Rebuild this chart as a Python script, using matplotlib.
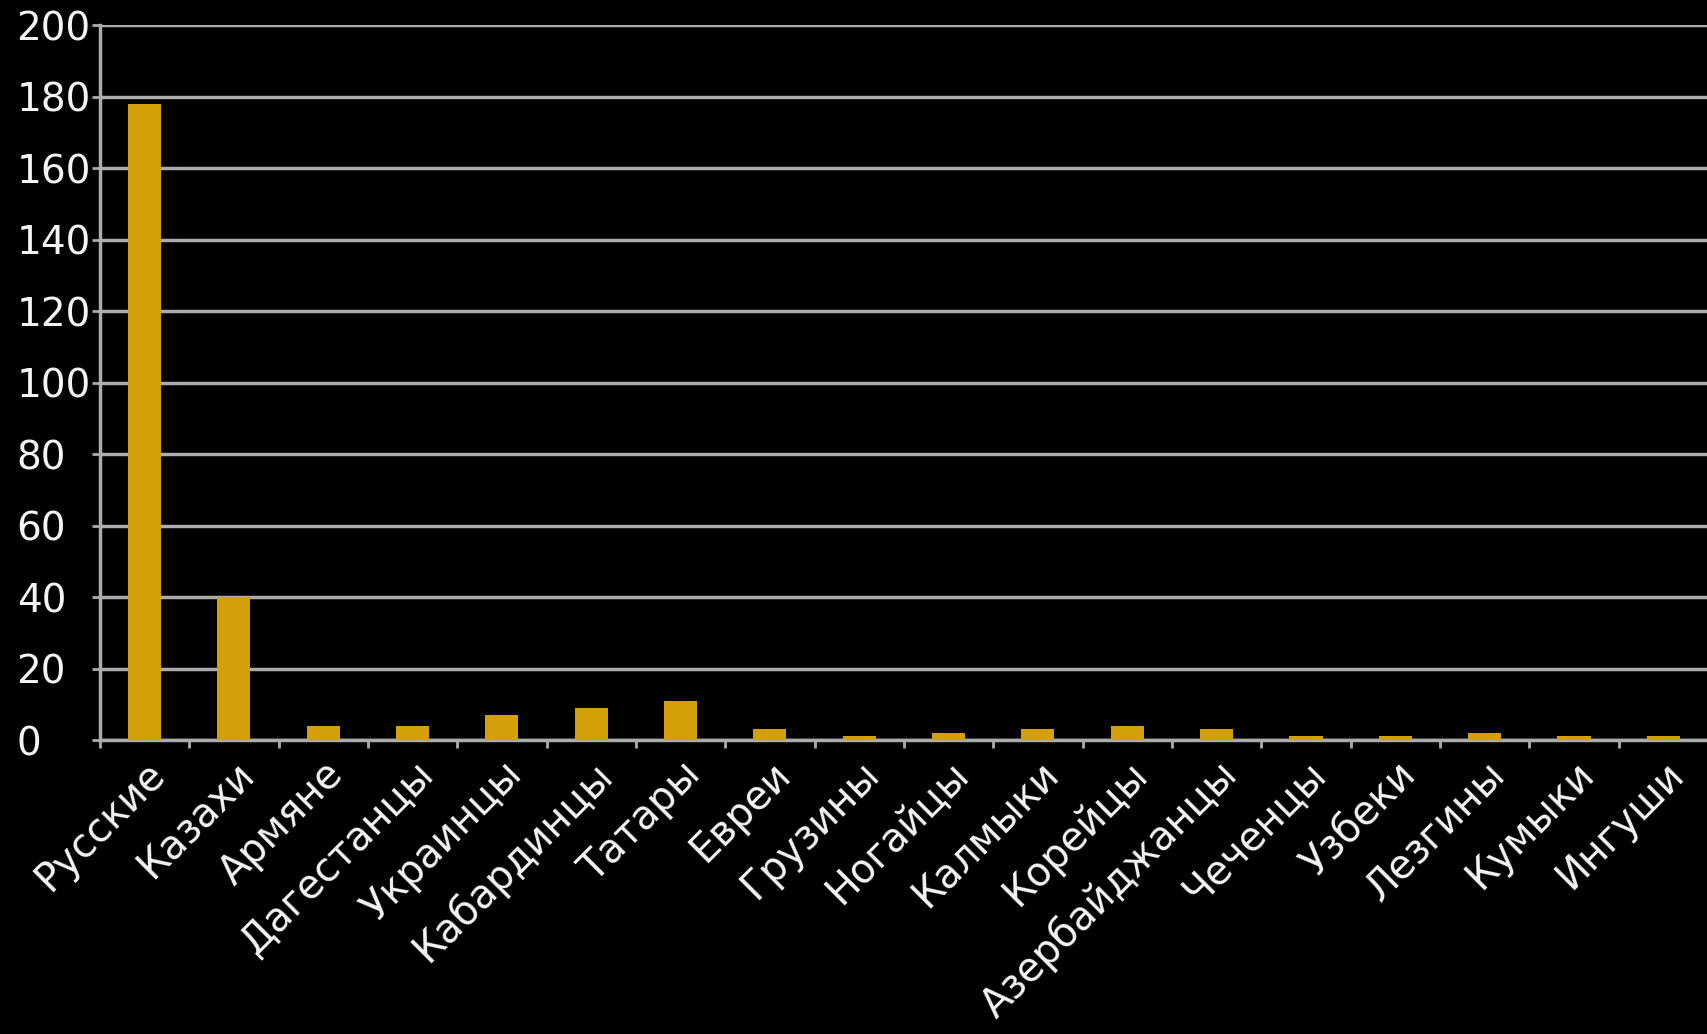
import numpy as np
import matplotlib
matplotlib.use("Agg")
from matplotlib import pyplot as plt

# categories and values
groups = ["Русские", "Казахи", "Армяне", "Дагестанцы", "Украинцы", "Кабардинцы",
          "Татары", "Евреи", "Грузины", "Ногайцы", "Калмыки", "Корейцы",
          "Азербайджанцы", "Чеченцы", "Узбеки", "Лезгины", "Кумыки", "Ингуши"]
counts = [178, 40, 4, 4, 7, 9, 11, 3, 1, 2, 3, 4, 3, 1, 1, 2, 1, 1]
yticks = [0, 20, 40, 60, 80, 100, 120, 140, 160, 180, 200]

bar_color = "#d4a00a"
grid_color = "#acacac"
text_color = "#f4f4f4"

plt.rcParams['font.family'] = ['DejaVu Sans']

fig = plt.figure(figsize=(17.08, 10.34), dpi=100, facecolor="black")
ax = fig.add_axes([0.0585, 0.2843, 0.9415, 0.6915], facecolor="black")

x = np.arange(len(groups))
ax.bar(x, counts, width=0.37, color=bar_color, zorder=3)

ax.set_xlim(-0.5, len(groups) - 0.5)
ax.set_ylim(0, 200)
ax.set_yticks(yticks)
ax.yaxis.grid(True, color=grid_color, linewidth=2.5, zorder=1)

# labels at centres, tick marks at category boundaries
ax.set_xticks(x)
ax.set_xticklabels(groups, rotation=45, ha="right", rotation_mode="anchor",
                   fontsize=28.5, color=text_color)
ax.set_xticks(np.arange(len(groups) + 1) - 0.5, minor=True)
ax.tick_params(axis="x", which="major", length=0, pad=10)
ax.tick_params(axis="x", which="minor", length=6, width=2, color=grid_color)

# y labels are left aligned near the figure edge
ax.tick_params(axis="y", length=6, width=2, color=grid_color, pad=54,
               labelsize=28, labelcolor=text_color)
for lab in ax.get_yticklabels():
    lab.set_horizontalalignment("left")

for side in ["top", "right"]:
    ax.spines[side].set_visible(False)
for side in ["left", "bottom"]:
    ax.spines[side].set_color(grid_color)
    ax.spines[side].set_linewidth(2.5)

fig.savefig("out.png", dpi=100, facecolor="black")
